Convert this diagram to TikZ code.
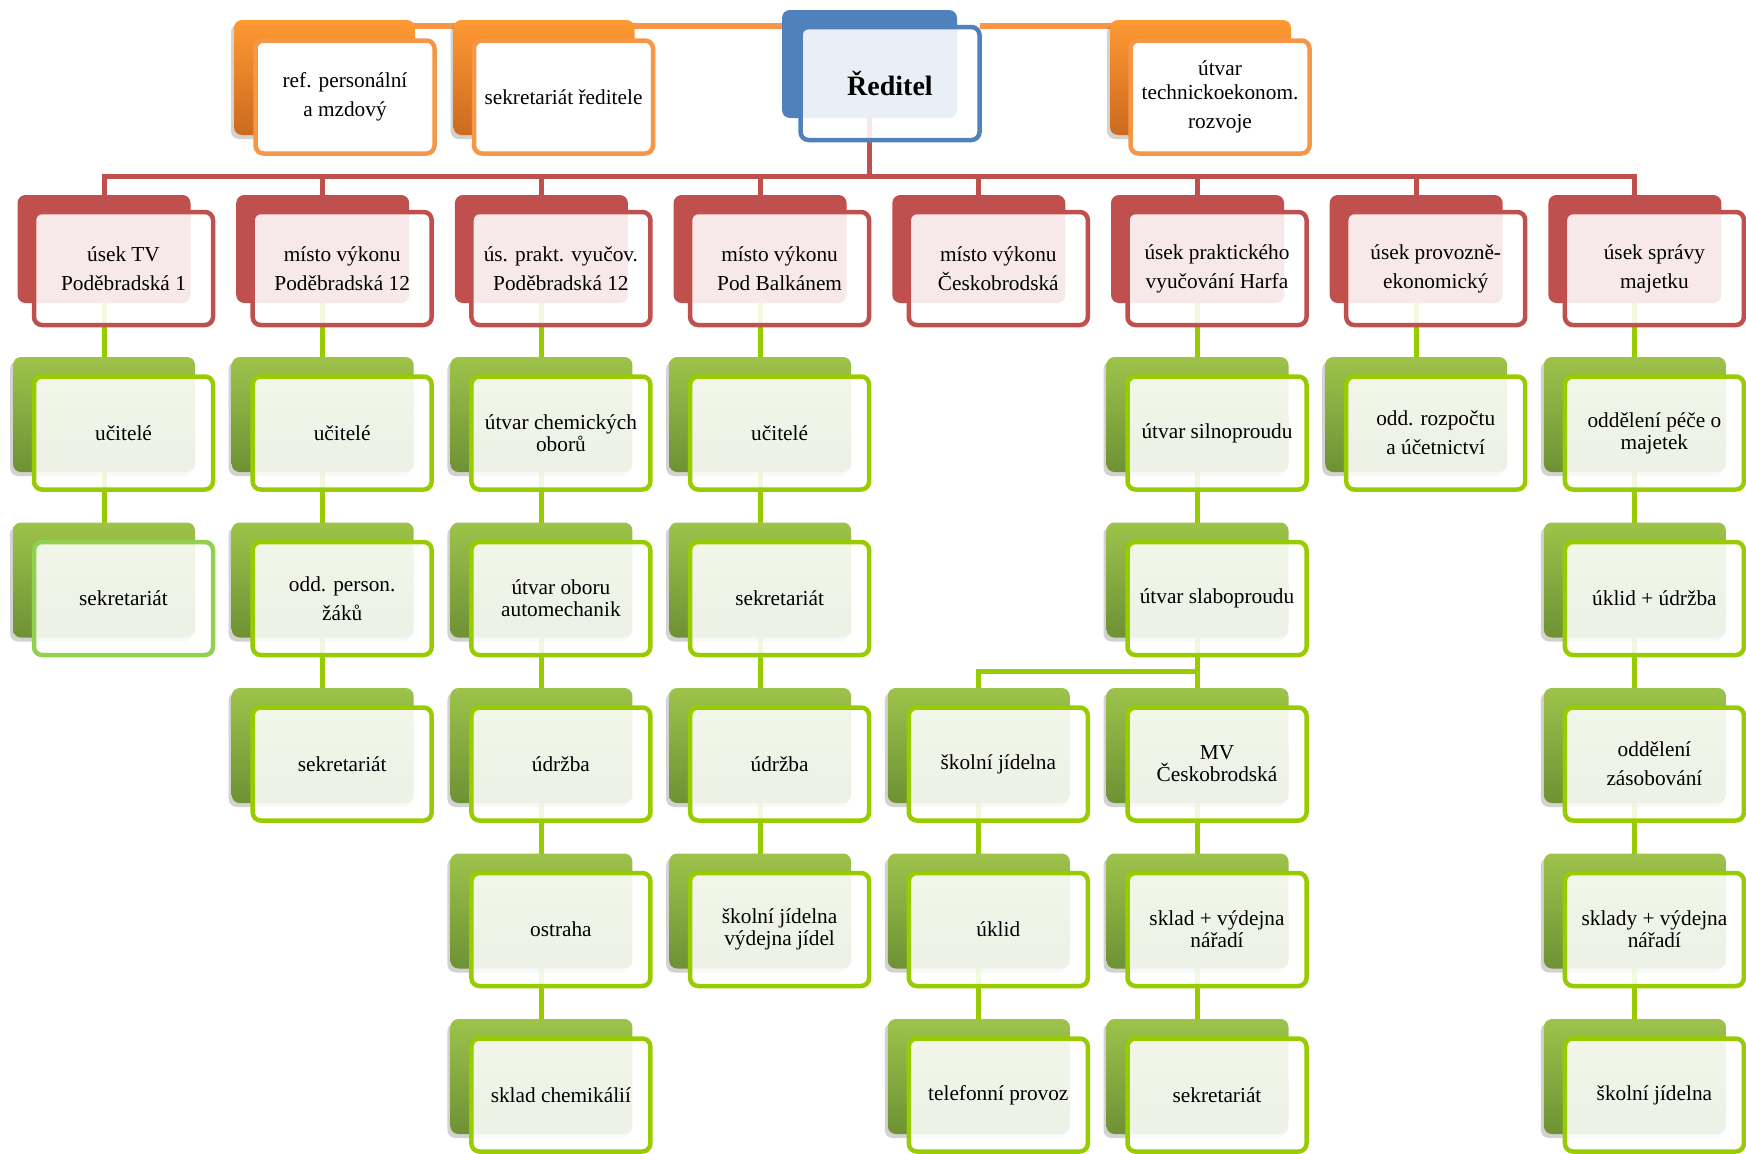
\documentclass[tikz,border=0pt]{standalone}
\usepackage{fontspec}
\setmainfont{Liberation Serif}
\usetikzlibrary{shadows}
\definecolor{RedC}{HTML}{C0504D}
\definecolor{BlueC}{HTML}{4F81BD}
\definecolor{OrangeLine}{HTML}{F79646}
\definecolor{OrangeTop}{HTML}{FF9933}
\definecolor{OrangeBot}{HTML}{CC6A1F}
\definecolor{GreenTop}{HTML}{9DC34B}
\definecolor{GreenBot}{HTML}{6E9134}
\definecolor{GreenLine}{HTML}{99CC00}
\definecolor{GreenLight}{HTML}{92D050}
\pgfdeclarelayer{bg}
\pgfsetlayers{bg,main}
\tikzset{
  basebox/.style={rectangle, rounded corners=8pt, inner sep=0pt, outer sep=0pt},
  softshadow/.style={drop shadow={shadow xshift=-3pt, shadow yshift=-4pt, opacity=0.25, fill=black!70}},
  backred/.style={basebox, fill=RedC, minimum width=173pt, minimum height=108pt},
  backblue/.style={basebox, fill=BlueC, minimum width=175pt, minimum height=108pt},
  backorange/.style={basebox, softshadow, top color=OrangeTop, bottom color=OrangeBot, minimum width=181pt, minimum height=115pt},
  backgreen/.style={basebox, softshadow, top color=GreenTop, bottom color=GreenBot, minimum width=182pt, minimum height=115pt},
  frontbox/.style={basebox, line width=4.5pt, fill=white, fill opacity=0.88, text opacity=1, text=black,
    minimum width=179pt, minimum height=113pt, align=center, font=\fontsize{21.3}{22}\selectfont},
  wide/.style={font=\fontsize{21.3}{29}\selectfont},
  frontred/.style={frontbox, draw=RedC},
  frontblue/.style={frontbox, draw=BlueC},
  frontorange/.style={frontbox, draw=OrangeLine, fill opacity=1},
  frontgreen/.style={frontbox, draw=GreenLine},
  oline/.style={draw=OrangeLine, line width=6pt},
  rline/.style={draw=RedC, line width=5pt},
  gline/.style={draw=GreenLine, line width=5pt},
}
\newcommand\rbox[4]{%
  \node[backred] (#1-b) at (#2,249) {};
  \node[frontred,#3] (#1) at ({#2+19.5},268.5) {#4};}
\newcommand\gbox[5]{%
  \node[backgreen] (#1-b) at (#2,{#3+57.5}) {};
  \node[#4] (#1) at ({#2+19.5},{#3+76}) {#5};}
\begin{document}
\begin{tikzpicture}[x=1pt,y=-1pt]
\useasboundingbox (0,0) rectangle (1746,1154);
\coordinate (ol) at (0,26);
\coordinate (rb) at (0,176);
\coordinate (gb) at (0,671);
% top level
\node[backorange] (ref-b) at (324.5,77.5) {};
\node[frontorange,wide] (ref) at (345,97) {ref. personální\\a mzdový};
\node[backorange] (sek-b) at (544,77.5) {};
\node[frontorange] (sek) at (563.5,97) {sekretariát ředitele};
\node[backblue] (dir-b) at (869.5,64) {};
\node[frontblue,font=\fontsize{28}{30}\selectfont\bfseries] (dir) at (890,83.5) {Ředitel};
\node[backorange] (utv-b) at (1200.5,77.5) {};
\node[frontorange] (utv) at (1220,97) {útvar\\[2pt]technickoekonom.\\[7pt]rozvoje};
% second level
\rbox{c1}{104}{wide}{úsek TV\\Poděbradská 1}
\rbox{c2}{322.7}{wide}{místo výkonu\\Poděbradská 12}
\rbox{c3}{541.4}{wide}{ús. prakt. vyučov.\\Poděbradská 12}
\rbox{c4}{760.1}{wide}{místo výkonu\\Pod Balkánem}
\rbox{c5}{978.8}{wide}{místo výkonu\\Českobrodská}
\rbox{c6}{1197.5}{wide}{úsek praktického\\vyučování Harfa}
\rbox{c7}{1416.2}{wide}{úsek provozně-\\ekonomický}
\rbox{c8}{1634.9}{wide}{úsek správy\\majetku}
% green boxes
\gbox{t1}{104}{357}{frontgreen}{učitelé}
\gbox{t2}{104}{522.5}{frontgreen,draw=GreenLight}{sekretariát}
\gbox{p1}{322.7}{357}{frontgreen}{učitelé}
\gbox{p2}{322.7}{522.5}{frontgreen,wide}{odd. person.\\žáků}
\gbox{p3}{322.7}{688}{frontgreen}{sekretariát}
\gbox{u1}{541.4}{357}{frontgreen}{útvar chemických\\oborů}
\gbox{u2}{541.4}{522.5}{frontgreen}{útvar oboru\\automechanik}
\gbox{u3}{541.4}{688}{frontgreen}{údržba}
\gbox{u4}{541.4}{853.5}{frontgreen}{ostraha}
\gbox{u5}{541.4}{1019}{frontgreen}{sklad chemikálií}
\gbox{b1}{760.1}{357}{frontgreen}{učitelé}
\gbox{b2}{760.1}{522.5}{frontgreen}{sekretariát}
\gbox{b3}{760.1}{688}{frontgreen}{údržba}
\gbox{b4}{760.1}{853.5}{frontgreen}{školní jídelna\\výdejna jídel}
\gbox{h1}{1197.5}{357}{frontgreen}{útvar silnoproudu}
\gbox{h2}{1197.5}{522.5}{frontgreen}{útvar slaboproudu}
\gbox{j3}{978.8}{688}{frontgreen}{školní jídelna}
\gbox{j4}{978.8}{853.5}{frontgreen}{úklid}
\gbox{j5}{978.8}{1019}{frontgreen}{telefonní provoz}
\gbox{v3}{1197.5}{688}{frontgreen}{MV\\Českobrodská}
\gbox{v4}{1197.5}{853.5}{frontgreen}{sklad + výdejna\\nářadí}
\gbox{v5}{1197.5}{1019}{frontgreen}{sekretariát}
\gbox{e1}{1416.2}{357}{frontgreen,wide}{odd. rozpočtu\\a účetnictví}
\gbox{z1}{1634.9}{357}{frontgreen}{oddělení péče o\\majetek}
\gbox{z2}{1634.9}{522.5}{frontgreen}{úklid + údržba}
\gbox{z3}{1634.9}{688}{frontgreen,wide}{oddělení\\zásobování}
\gbox{z4}{1634.9}{853.5}{frontgreen}{sklady + výdejna\\nářadí}
\gbox{z5}{1634.9}{1019}{frontgreen}{školní jídelna}
% connectors
\begin{pgfonlayer}{bg}
\draw[oline] (ref-b |- ol) -- (dir-b.west |- ol);
\draw[oline] (dir.east |- ol) -- (utv-b |- ol);
\foreach \k in {1,...,8}
  \draw[rline] (dir-b.south) |- (c\k-b.north |- rb) -- (c\k-b.north);
\foreach \p/\q in {c1/t1,t1/t2,c2/p1,p1/p2,p2/p3,c3/u1,u1/u2,u2/u3,u3/u4,u4/u5,
  c4/b1,b1/b2,b2/b3,b3/b4,c6/h1,h1/h2,h2/v3,j3/j4,j4/j5,v3/v4,v4/v5,c7/e1,
  c8/z1,z1/z2,z2/z3,z3/z4,z4/z5}
  \draw[gline] (\p-b.south) -- (\q-b.north);
\draw[gline] (h2-b.south) |- (j3-b.north |- gb) -- (j3-b.north);
\end{pgfonlayer}
\end{tikzpicture}
\end{document}
